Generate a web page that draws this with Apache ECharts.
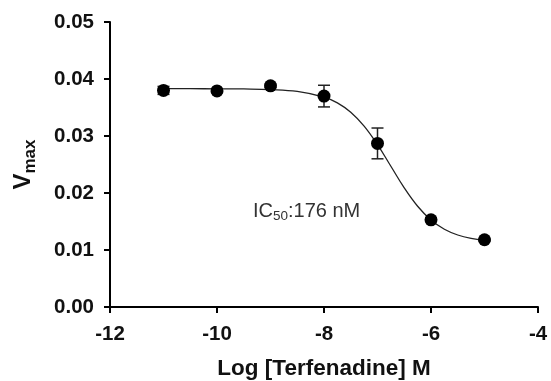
<!DOCTYPE html>
<html><head><meta charset="utf-8">
<script src="https://cdn.jsdelivr.net/npm/echarts@6/dist/echarts.min.js"></script>
<style>html,body{margin:0;padding:0;background:#fff}#c{width:551px;height:381px}</style>
</head><body><div id="c"></div>
<script>
// Data
const logConc = [-11, -10, -9, -8, -7, -6, -5];
const vmax    = [0.0380, 0.0379, 0.0388, 0.0370, 0.0287, 0.0153, 0.0118];
const errLow  = [0.0373, 0.0376, 0.0385, 0.0351, 0.0260, 0.0150, 0.0116];
const errHigh = [0.0387, 0.0382, 0.0391, 0.0389, 0.0314, 0.0156, 0.0120];
// fitted curve
const curveX = [-11, -10.5, -10, -9.5, -9, -8.5, -8, -7.75, -7.5, -7.25, -7, -6.75, -6.5, -6.25, -6, -5.75, -5.5, -5.25, -5];
const curveY = [0.0383, 0.0383, 0.03828, 0.03825, 0.03815, 0.03782, 0.03684, 0.03582, 0.03418, 0.03174, 0.02848, 0.02469, 0.0209, 0.01767, 0.01526, 0.01364, 0.01263, 0.01202, 0.01167];
const xTicks = [-12, -10, -8, -6, -4];
const yTicks = [0, 0.01, 0.02, 0.03, 0.04, 0.05];

const FONT = 'Liberation Sans, Arial, sans-serif';
const INK = '#111';
const chart = echarts.init(document.getElementById('c'));
chart.setOption({
  animation: false,
  grid: {left: 110, right: 13, top: 22, bottom: 74, containLabel: false, outerBoundsMode: 'none'},
  xAxis: {
    type: 'value', min: xTicks[0], max: xTicks[xTicks.length-1], interval: 2,
    name: 'Log [Terfenadine] M', nameLocation: 'middle', nameGap: 50,
    nameTextStyle: {fontFamily: FONT, fontWeight: 'bold', fontSize: 22.5, color: INK},
    axisLine: {onZero: false, lineStyle: {color: '#000', width: 2}},
    axisTick: {show: true, length: 6, lineStyle: {color: '#000', width: 2}},
    axisLabel: {fontFamily: FONT, fontWeight: 'bold', fontSize: 20.5, color: INK, margin: 17},
    splitLine: {show: false}
  },
  yAxis: {
    type: 'value', min: yTicks[0], max: yTicks[yTicks.length-1], interval: 0.01,
    name: '{v|V}{s|max}', nameLocation: 'middle', nameGap: 71,
    nameTextStyle: {
      fontFamily: FONT, fontWeight: 'bold', color: INK,
      rich: {
        v: {fontFamily: FONT, fontWeight: 'bold', fontSize: 24, color: INK, lineHeight: 32, verticalAlign: 'middle'},
        s: {fontFamily: FONT, fontWeight: 'bold', fontSize: 17, color: INK, verticalAlign: 'bottom', lineHeight: 17}
      }
    },
    axisLine: {show: true, lineStyle: {color: '#000', width: 2}},
    axisTick: {show: true, length: 6, lineStyle: {color: '#000', width: 2}},
    axisLabel: {fontFamily: FONT, fontWeight: 'bold', fontSize: 20.5, color: INK, margin: 16,
      formatter: v => v.toFixed(2)},
    splitLine: {show: false}
  },
  graphic: [{
    type: 'text', left: 253, top: 201,
    style: {
      text: '{a|IC}{b|50}{a|:176 nM}',
      rich: {
        a: {fontFamily: FONT, fontSize: 20, fill: '#333', lineHeight: 24, verticalAlign: 'middle'},
        b: {fontFamily: FONT, fontSize: 13.5, fill: '#333', verticalAlign: 'bottom', lineHeight: 13}
      }
    }
  }],
  series: [
    {
      type: 'line', data: curveX.map((x, i) => [x, curveY[i]]), smooth: 0.4,
      showSymbol: false, lineStyle: {color: '#222', width: 1.3}, z: 2, silent: true
    },
    {
      type: 'custom', z: 3,
      data: logConc.map((x, i) => [x, errLow[i], errHigh[i]]),
      renderItem: (params, api) => {
        const lo = api.coord([api.value(0), api.value(1)]);
        const hi = api.coord([api.value(0), api.value(2)]);
        const w = 6;
        const st = {stroke: '#222', lineWidth: 1.5};
        return {type: 'group', children: [
          {type: 'line', shape: {x1: lo[0], y1: lo[1], x2: hi[0], y2: hi[1]}, style: st},
          {type: 'line', shape: {x1: lo[0]-w, y1: lo[1], x2: lo[0]+w, y2: lo[1]}, style: st},
          {type: 'line', shape: {x1: hi[0]-w, y1: hi[1], x2: hi[0]+w, y2: hi[1]}, style: st}
        ]};
      }
    },
    {
      type: 'scatter', data: logConc.map((x, i) => [x, vmax[i]]),
      symbol: 'circle', symbolSize: 13, itemStyle: {color: '#000', opacity: 1}, z: 4
    }
  ]
});
</script></body></html>
